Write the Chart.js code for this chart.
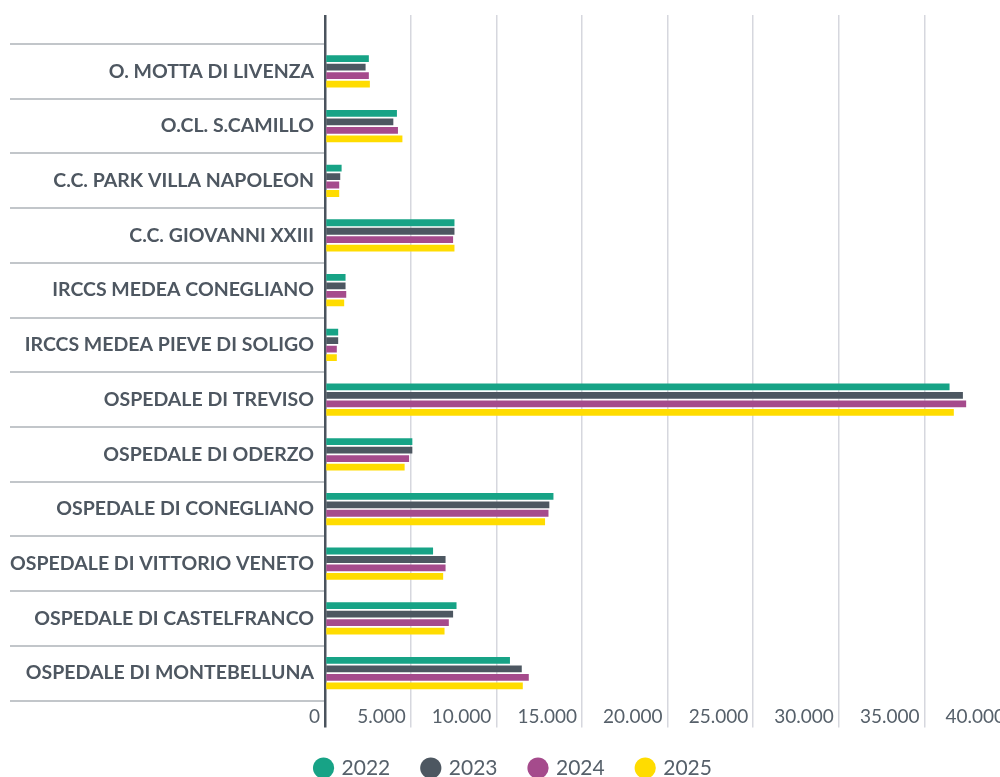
<!DOCTYPE html>
<html>
<head>
<meta charset="utf-8">
<script src="https://cdn.jsdelivr.net/npm/chart.js@4/dist/chart.umd.min.js"></script>
<style>
  html, body { margin: 0; padding: 0; background: #fff; overflow: hidden; }
  #wrap { position: relative; width: 1010px; height: 777px; }
</style>
</head>
<body>
<div id="wrap"><canvas id="chart"></canvas></div>
<script>
// strutture
const categories = [
  "O. MOTTA DI LIVENZA",
  "O.CL. S.CAMILLO",
  "C.C. PARK VILLA NAPOLEON",
  "C.C. GIOVANNI XXIII",
  "IRCCS MEDEA CONEGLIANO",
  "IRCCS MEDEA PIEVE DI SOLIGO",
  "OSPEDALE DI TREVISO",
  "OSPEDALE DI ODERZO",
  "OSPEDALE DI CONEGLIANO",
  "OSPEDALE DI VITTORIO VENETO",
  "OSPEDALE DI CASTELFRANCO",
  "OSPEDALE DI MONTEBELLUNA"
];

const years = ["2022", "2023", "2024", "2025"];

const values2022 = [2560, 4200, 970, 7560, 1200, 770, 36470, 5100, 13340, 6310, 7680, 10800];
const values2023 = [2370, 3990, 890, 7560, 1200, 770, 37250, 5100, 13100, 7040, 7480, 11490];
const values2024 = [2560, 4260, 830, 7480, 1240, 690, 37440, 4910, 13050, 7040, 7230, 11900];
const values2025 = [2620, 4520, 830, 7560, 1120, 690, 36720, 4650, 12850, 6900, 6980, 11550];

const xTicks = [0, 5000, 10000, 15000, 20000, 25000, 30000, 35000, 40000];

const colors = ["#17a386", "#4d5761", "#a54b8c", "#ffdc00"];
const seriesValues = [values2022, values2023, values2024, values2025];

const textColor = "#56606a";
const gridColor = "#d6d7de";
const axisColor = "#4a535d";

// formato italiano con punto per le migliaia
function fmt(v) {
  return String(v).replace(/\B(?=(\d{3})+(?!\d))/g, ".");
}

const gridLineColor = ctx => (ctx.tick && ctx.tick.value === 0 ? axisColor : gridColor);
const gridLineWidth = ctx => (ctx.tick && ctx.tick.value === 0 ? 2.5 : 1.5);

// le etichette lunghe non devono essere tagliate dal padding sinistro
const labelRoom = {
  id: "labelRoom",
  afterLayout(chart) {
    chart.scales.y.left = 0;
  }
};

const ctx = document.getElementById("chart").getContext("2d");

new Chart(ctx, {
  type: "bar",
  data: {
    labels: categories,
    datasets: years.map((y, i) => ({
      label: y,
      data: seriesValues[i],
      backgroundColor: colors[i],
      borderWidth: 0,
      barPercentage: 0.8,
      categoryPercentage: 0.62
    }))
  },
  plugins: [labelRoom],
  options: {
    indexAxis: "y",
    responsive: true,
    maintainAspectRatio: false,
    animation: false,
    layout: { padding: { top: 15, left: 18, right: 0, bottom: -11.5 } },
    plugins: {
      tooltip: { enabled: false },
      legend: {
        position: "bottom",
        labels: {
          usePointStyle: true,
          pointStyle: "circle",
          boxWidth: 15,
          boxHeight: 15,
          padding: 33,
          color: textColor,
          font: { family: "Lato", size: 21 }
        }
      }
    },
    scales: {
      y: {
        type: "category",
        offset: true,
        border: { display: false },
        grid: {
          offset: true,
          drawOnChartArea: false,
          drawTicks: true,
          tickLength: 315,
          color: "#c2c6ca",
          lineWidth: 2
        },
        ticks: {
          padding: -304,
          color: "#4e5761",
          font: { family: "Lato", size: 19.5, weight: "bold" }
        },
        afterFit: scale => { scale.width = 307; }
      },
      x: {
        type: "linear",
        position: "bottom",
        min: 0,
        max: 40000,
        afterBuildTicks: scale => { scale.ticks = xTicks.map(v => ({ value: v })); },
        border: { display: false },
        grid: {
          color: gridLineColor,
          lineWidth: gridLineWidth,
          drawTicks: true,
          tickLength: 27
        },
        ticks: {
          align: "end",
          padding: -22,
          color: textColor,
          font: { family: "Lato", size: 19 },
          callback: v => fmt(v) + " "
        },
        afterFit: scale => { scale.height = 24; }
      },
      x2: {
        type: "linear",
        position: "top",
        min: 0,
        max: 40000,
        afterBuildTicks: scale => { scale.ticks = xTicks.map(v => ({ value: v })); },
        border: { display: false },
        grid: {
          color: gridLineColor,
          lineWidth: gridLineWidth,
          drawOnChartArea: false,
          drawTicks: true,
          tickLength: 29
        },
        ticks: { display: false }
      }
    }
  }
});
</script>
</body>
</html>
